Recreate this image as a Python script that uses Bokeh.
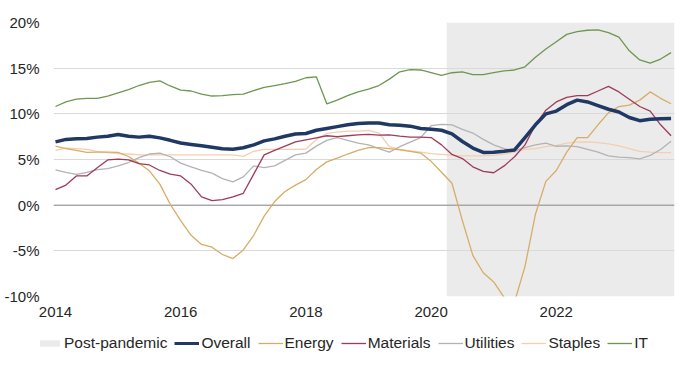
from bokeh.plotting import figure
from bokeh.layouts import column
from bokeh.models import (Legend, LegendItem, FixedTicker, Span, Range1d,
                          CustomJSTickFormatter)
from bokeh.embed import file_html
from bokeh.resources import INLINE

# ---- data: bi-monthly observations, Jan 2014 .. Nov 2023 (year-over-year %, approx.)
dates = [f"{2014 + i // 6}-{(i % 6) * 2 + 1:02d}" for i in range(60)]

overall = [6.93, 7.2, 7.26, 7.3, 7.45, 7.55, 7.74, 7.55, 7.45, 7.55, 7.37, 7.1, 6.8, 6.64, 6.5, 6.35,
           6.17, 6.13, 6.28, 6.6, 7.04, 7.26, 7.55, 7.8, 7.85, 8.2, 8.4, 8.6, 8.8, 8.94,
           9.0, 9.0, 8.8, 8.76, 8.65, 8.4, 8.3, 8.2, 7.8, 6.97, 6.25, 5.77, 5.8, 5.9, 6.05,
           7.4, 8.8, 10.0, 10.3, 11.0, 11.5, 11.3, 10.9, 10.5, 10.2, 9.6, 9.25, 9.4, 9.45, 9.5]

energy = [6.46, 6.2, 6.0, 5.77, 5.8, 5.8, 5.77, 5.33, 4.6, 3.76, 2.3, 0.1, -1.7, -3.3, -4.3, -4.6,
          -5.4, -5.85, -4.9, -3.3, -1.2, 0.4, 1.5, 2.2, 2.8, 3.9, 4.74, 5.15, 5.6, 6.0,
          6.3, 6.3, 6.2, 6.05, 5.9, 5.7, 4.8, 3.6, 2.4, -1.7, -5.5, -7.4, -8.4, -10.1, -10.6,
          -6.7, -1.0, 2.6, 3.8, 5.8, 7.4, 7.4, 8.8, 10.1, 10.8, 10.95, 11.5, 12.4, 11.7, 11.1]

materials = [1.7, 2.2, 3.2, 3.2, 4.1, 4.95, 5.05, 4.95, 4.55, 4.4, 3.8, 3.4, 3.2, 2.3, 0.9, 0.5,
             0.6, 0.9, 1.3, 3.4, 5.5, 6.0, 6.46, 6.93, 7.15, 7.37, 7.6, 7.5, 7.6, 7.7,
             7.74, 7.66, 7.7, 7.55, 7.45, 7.45, 7.4, 6.6, 5.55, 5.1, 4.2, 3.7, 3.55, 4.3, 5.3,
             6.6, 8.8, 10.4, 11.3, 11.8, 12.0, 12.0, 12.5, 13.0, 12.4, 11.6, 10.8, 10.3, 8.8, 7.6]

utilities = [3.87, 3.6, 3.36, 3.6, 3.9, 4.0, 4.3, 4.67, 5.2, 5.6, 5.7, 5.3, 4.6, 4.2, 3.8, 3.5,
             2.9, 2.55, 3.1, 4.3, 4.1, 4.3, 4.9, 5.5, 5.7, 6.46, 7.1, 7.4, 7.1, 6.8,
             6.6, 6.2, 5.8, 6.4, 6.9, 7.4, 8.7, 8.85, 8.8, 8.3, 7.9, 7.2, 6.6, 6.2, 5.95,
             6.3, 6.6, 6.8, 6.45, 6.5, 6.4, 6.1, 5.8, 5.4, 5.25, 5.2, 5.07, 5.45, 6.1, 7.0]

staples = [6.0, 6.25, 6.2, 6.1, 5.9, 5.75, 5.65, 5.6, 5.5, 5.5, 5.5, 5.5, 5.5, 5.5, 5.5, 5.5,
           5.5, 5.5, 5.35, 5.9, 6.1, 6.1, 6.1, 6.1, 6.15, 7.2, 7.85, 8.0, 8.1, 8.1,
           8.2, 7.9, 6.4, 6.1, 5.95, 5.8, 5.65, 5.55, 5.45, 5.4, 5.4, 5.4, 5.45, 5.6, 5.8,
           6.1, 6.2, 6.4, 6.55, 6.8, 6.9, 6.93, 6.85, 6.7, 6.5, 6.2, 5.9, 5.8, 5.75, 5.75]

it = [10.8, 11.3, 11.6, 11.7, 11.7, 11.95, 12.3, 12.65, 13.1, 13.45, 13.6, 13.05, 12.6, 12.5, 12.15, 11.95,
      12.0, 12.1, 12.15, 12.55, 12.9, 13.1, 13.3, 13.55, 13.95, 14.05, 11.1, 11.5, 12.0, 12.4,
      12.7, 13.1, 13.8, 14.6, 14.85, 14.8, 14.5, 14.2, 14.5, 14.6, 14.3, 14.3, 14.5, 14.7, 14.8,
      15.15, 16.2, 17.1, 17.9, 18.7, 19.0, 19.15, 19.2, 18.9, 18.4, 16.9, 15.9, 15.55, 16.0, 16.7]

post_pandemic_start = "2020-04"
year_ticks = [2014, 2016, 2018, 2020, 2022]
pct_ticks = [-10, -5, 0, 5, 10, 15, 20]


def to_year(s):
    y, m = s.split("-")
    return int(y) + (int(m) - 1) / 12


x = [to_year(d) for d in dates]

FONT = "Liberation Sans"
TXT = "#262626"
SHADE = "#EBEBEB"

x_start = x[0] - 0.032
x_end = x[-1] + 0.055

p = figure(width=678, height=330, output_backend="svg", toolbar_location=None,
           x_range=Range1d(x_start, x_end), y_range=Range1d(pct_ticks[0], pct_ticks[-1]),
           min_border_left=53, min_border_right=4, min_border_top=22, min_border_bottom=34,
           outline_line_color=None, background_fill_color="white", frame_align=False)

# shaded post-pandemic period (drawn beneath grid)
p.quad(left=[to_year(post_pandemic_start)], right=[x_end], bottom=[pct_ticks[0]],
       top=[pct_ticks[-1]], fill_color=SHADE, line_color=None, level="image")

p.xgrid.grid_line_color = None
p.ygrid.ticker = FixedTicker(ticks=pct_ticks)
p.ygrid.grid_line_color = "#D9D9D9"
p.ygrid.grid_line_width = 1

p.add_layout(Span(location=0, dimension="width", line_color="#8C8C8C", line_width=1, level="underlay"))

for ax in (p.xaxis[0], p.yaxis[0]):
    ax.axis_line_color = None
    ax.major_tick_line_color = None
    ax.minor_tick_line_color = None
    ax.major_tick_out = 0
    ax.major_tick_in = 0
    ax.minor_tick_out = 0
    ax.minor_tick_in = 0
    ax.major_label_text_font = FONT
    ax.major_label_text_font_size = "15px"
    ax.major_label_text_color = TXT

p.yaxis.ticker = FixedTicker(ticks=pct_ticks)
p.yaxis.formatter = CustomJSTickFormatter(code="return tick.toFixed(0) + '%';")
p.yaxis.major_label_standoff = 14
p.xaxis.ticker = FixedTicker(ticks=year_ticks)
p.xaxis.formatter = CustomJSTickFormatter(code="return tick.toFixed(0);")
p.xaxis.major_label_standoff = 10

series = [
    ("Overall", overall, "#1F3864", 3.5),
    ("Energy", energy, "#D6AD66", 1.3),
    ("Materials", materials, "#9E3B5B", 1.3),
    ("Utilities", utilities, "#B3B3B3", 1.3),
    ("Staples", staples, "#F6CDB0", 1.3),
    ("IT", it, "#6E9651", 1.3),
]

draw_order = ["Staples", "Utilities", "Energy", "Materials", "IT", "Overall"]
lookup = {s[0]: s for s in series}
for name in draw_order:
    _, vals, col, w = lookup[name]
    p.line(x, vals, line_color=col, line_width=w, line_join="round")

# ---- legend strip (separate figure so it can span the full width)
lg = figure(width=678, height=36, output_backend="svg", toolbar_location=None,
            x_range=Range1d(0, 1), y_range=Range1d(0, 1), x_axis_type=None, y_axis_type=None,
            min_border_left=0, min_border_right=0, min_border_top=0, min_border_bottom=0,
            outline_line_color=None, background_fill_color="white", frame_align=False)
lg.grid.visible = False

# key-only renderers, placed outside the visible range
key_shade = lg.quad(left=[-3], right=[-2], bottom=[-3], top=[-2], fill_color=SHADE, line_color=None)
items = [LegendItem(label="Post-pandemic", renderers=[key_shade])]
for name, _, col, w in series:
    r = lg.line(x=[-3, -2], y=[-3, -2], line_color=col, line_width=min(w, 3.0))
    items.append(LegendItem(label=name, renderers=[r]))

legend = Legend(items=items, orientation="horizontal", location=(37, 14),
                glyph_width=25, glyph_height=8, label_standoff=2, spacing=7,
                padding=0, margin=0, border_line_color=None, background_fill_alpha=0,
                label_text_font=FONT, label_text_font_size="15.5px", label_text_color=TXT)
lg.add_layout(legend)

layout = column(p, lg, spacing=0)
open("out.html", "w").write(file_html(layout, INLINE))
